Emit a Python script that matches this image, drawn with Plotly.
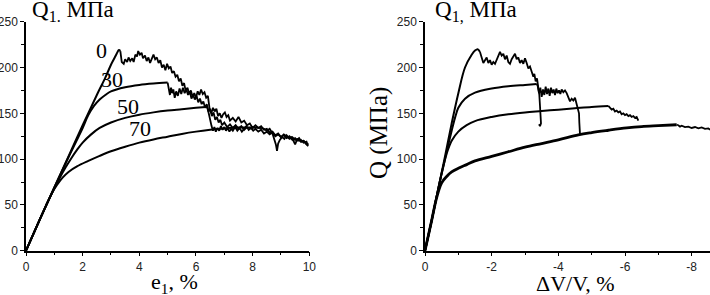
import plotly.graph_objects as go

W, H = 710, 295

# ---------------- data: left panel (e1, %) ----------------
L0_smooth_x = [0, 0.5, 1.0, 1.5, 2.0, 2.5, 2.8, 3.0, 3.1, 3.2, 3.28, 3.33]
L0_smooth_y = [0, 35, 69, 103, 137, 170, 189, 203, 209, 215, 219, 218]
L0_noisy_x = [3.33, 3.38, 3.45, 3.5, 3.57, 3.62, 3.68, 3.75, 3.8, 3.86, 3.92, 3.96, 4.02, 4.08, 4.13,
              4.2, 4.26, 4.32, 4.38, 4.44, 4.5, 4.56, 4.62, 4.68, 4.74, 4.8, 4.86, 4.92, 4.98, 5.04,
              5.1, 5.16, 5.22, 5.28, 5.34, 5.4, 5.46, 5.52, 5.58, 5.64, 5.7, 5.76, 5.82, 5.88, 5.94,
              6.0, 6.06, 6.12, 6.18, 6.24, 6.3, 6.36, 6.42, 6.48, 6.54, 6.6, 6.66, 6.72, 6.78, 6.84,
              6.9, 6.96, 7.02, 7.08, 7.14, 7.2, 7.3, 7.4, 7.5, 7.6, 7.7, 7.8, 7.9, 8.0, 8.1, 8.2, 8.3,
              8.4, 8.5, 8.6, 8.7, 8.8, 8.9, 9.0, 9.1, 9.2, 9.3, 9.4, 9.5, 9.6, 9.7, 9.8, 9.9, 9.97]
L0_noisy_y = [218, 206, 204, 209, 206, 211, 207, 210, 206, 214, 212, 218, 214, 216, 210,
              213, 207, 211, 205, 210, 214, 209, 211, 205, 208, 200, 203, 197, 204, 199,
              201, 194, 196, 190, 192, 185, 188, 180, 183, 174, 178, 171, 175, 168, 172,
              167, 174, 170, 176, 171, 173, 167, 169, 155, 150, 156, 152, 155, 147, 150,
              145, 149, 151, 146, 148, 142, 145, 141, 146, 140, 142, 137, 139, 134, 137, 134, 136,
              132, 133, 129, 130, 126, 128, 124, 127, 125, 122, 124, 121, 122, 119, 120, 116, 117]

L30_smooth_x = [0, 0.5, 1.0, 1.5, 1.8, 2.0, 2.2, 2.4, 2.6, 2.8, 3.0, 3.5, 4.0, 4.5, 5.0]
L30_smooth_y = [0, 35, 69, 102, 121, 134, 148, 158, 165, 170, 174, 178.5, 181, 182.5, 183.5]
L30_noisy_x = [5.0, 5.04, 5.08, 5.12, 5.16, 5.2, 5.25, 5.3, 5.36, 5.42, 5.48, 5.54, 5.6, 5.66, 5.72,
               5.78, 5.84, 5.9, 5.96, 6.02, 6.08, 6.14, 6.2, 6.26, 6.32, 6.38, 6.44, 6.5, 6.56, 6.62,
               6.68, 6.74, 6.8, 6.86, 6.92, 7.0, 7.1, 7.2, 7.3, 7.4, 7.5, 7.6, 7.7, 7.8]
L30_noisy_y = [183.5, 175, 170, 178, 172, 176, 167, 174, 169, 177, 171, 178, 172, 176, 170,
               174, 166, 170, 165, 169, 162, 166, 160, 163, 156, 160, 152, 155, 147, 151,
               143, 146, 140, 143, 137, 140, 135, 138, 134, 137, 133, 136, 132, 135]

L50_smooth_x = [0, 0.5, 1.0, 1.2, 1.4, 1.6, 1.8, 2.0, 2.3, 2.6, 3.0, 3.5, 4.0, 4.5, 5.0, 5.5, 6.0, 6.35]
L50_smooth_y = [0, 35, 68, 80, 91, 101, 110, 118, 127, 134, 140, 145, 148.5, 151, 153, 154.5, 156, 157]
L50_noisy_x = [6.35, 6.4, 6.45, 6.5, 6.55, 6.6, 6.65, 6.7, 6.76, 6.82, 6.88, 6.94, 7.0, 7.06, 7.12,
               7.18, 7.24, 7.3, 7.38, 7.46, 7.54, 7.62, 7.7, 7.78, 7.86, 7.94, 8.02, 8.1, 8.2, 8.3,
               8.4, 8.5, 8.6, 8.7, 8.8, 8.9, 9.0, 9.1, 9.2, 9.3, 9.4, 9.5, 9.6, 9.7, 9.8, 9.9, 9.95]
L50_noisy_y = [157, 156, 150, 142, 136, 131, 135, 130, 134, 131, 136, 132, 135, 131, 134,
               130, 133, 131, 135, 131, 134, 130, 133, 136, 132, 134, 131, 133, 130, 132,
               128, 130, 127, 129, 125, 127, 124, 126, 123, 125, 121, 123, 120, 121, 118, 119, 115]

L70_smooth_x = [0, 0.4, 0.7, 0.9, 1.1, 1.3, 1.5, 1.8, 2.2, 2.6, 3.0, 3.5, 4.0, 4.5, 5.0, 5.5, 6.0,
                6.5, 7.0, 7.5, 8.0, 8.3]
L70_smooth_y = [0, 28, 49, 62, 72, 80, 86, 92, 98, 103.5, 108.5, 113.5, 118, 121.5, 124.5, 127.5,
                130, 132, 133.5, 134.5, 134.5, 134]
L70_noisy_x = [8.3, 8.4, 8.5, 8.6, 8.7, 8.76, 8.82, 8.86, 8.9, 8.96, 9.04, 9.12, 9.2, 9.28, 9.36,
               9.44, 9.5, 9.56, 9.64, 9.72, 9.8, 9.88, 9.96]
L70_noisy_y = [134, 133, 131, 133, 128, 122, 116, 109, 117, 121, 124, 122, 126, 123, 124,
               120, 116, 121, 123, 119, 120, 117, 114]

# ---------------- data: right panel (dV/V, %) ----------------
R0_smooth_x = [0, -0.2, -0.4, -0.6, -0.8, -1.0, -1.2, -1.4, -1.5, -1.58, -1.65]
R0_smooth_y = [0, 33, 68, 103, 139, 172, 200, 214, 218.5, 220, 217]
R0_noisy_x = [-1.65, -1.7, -1.75, -1.8, -1.85, -1.9, -1.95, -2.0, -2.05, -2.1, -2.15, -2.2, -2.25,
              -2.3, -2.35, -2.4, -2.45, -2.5, -2.55, -2.6, -2.65, -2.7, -2.75, -2.8, -2.85, -2.9,
              -2.95, -3.0, -3.05, -3.1, -3.15, -3.2, -3.25, -3.28, -3.32, -3.36, -3.4, -3.43,
              -3.45, -3.47, -3.48, -3.45, -3.42]
R0_noisy_y = [217, 210, 205, 208, 211, 205, 208, 203, 206, 204, 209, 212, 217,
              213, 215, 209, 213, 206, 204, 209, 212, 215, 209, 211, 205, 208,
              204, 210, 205, 199, 201, 195, 190, 193, 185, 188, 180, 170,
              158, 147, 139, 136, 138]

R30_smooth_x = [0, -0.2, -0.4, -0.6, -0.7, -0.8, -0.9, -1.0, -1.2, -1.5, -2.0, -2.5, -3.0, -3.35]
R30_smooth_y = [0, 33, 68, 100, 116, 131, 145, 156, 166, 172.5, 177, 179.5, 181, 182]
R30_noisy_x = [-3.35, -3.38, -3.42, -3.46, -3.5, -3.54, -3.58, -3.62, -3.66, -3.7, -3.74, -3.78,
               -3.82, -3.86, -3.9, -3.94, -3.98, -4.02, -4.06, -4.1, -4.15, -4.2, -4.25, -4.3,
               -4.35, -4.4, -4.45, -4.5, -4.55, -4.6, -4.62, -4.63, -4.64, -4.65]
R30_noisy_y = [182, 180, 172, 178, 168, 176, 170, 179, 171, 177, 169, 178,
               172, 176, 170, 177, 172, 175, 171, 176, 173, 175, 172, 168,
               163, 166, 164, 167, 160, 156, 150, 140, 132, 127]

R50_smooth_x = [0, -0.2, -0.4, -0.55, -0.65, -0.8, -1.0, -1.25, -1.5, -2.0, -2.5, -3.0, -3.5,
                -4.0, -4.5, -5.0, -5.5]
R50_smooth_y = [0, 33, 68, 92, 106, 120, 130, 137, 141.5, 146, 149, 151, 152.5, 154, 155.5, 157, 158]
R50_noisy_x = [-5.5, -5.55, -5.6, -5.65, -5.7, -5.75, -5.8, -5.85, -5.9, -5.95, -6.0, -6.05, -6.1,
               -6.15, -6.2, -6.25, -6.3, -6.35, -6.4]
R50_noisy_y = [158, 156, 154, 155, 152, 153, 151, 152, 149, 150, 148, 149, 147,
               148, 146, 147, 145, 146, 142]

R70_smooth_x = [0, -0.2, -0.35, -0.5, -0.65, -0.8, -1.0, -1.25, -1.5, -2.0, -2.5, -3.0, -3.5,
                -4.0, -4.6, -5.0, -5.5, -6.05, -6.5, -7.0, -7.55]
R70_smooth_y = [0, 33, 58, 74, 81, 86, 90, 94, 98, 103, 108, 113, 117, 121, 126.5, 129, 131.5,
                134, 135.5, 136.5, 137.5]
R70_noisy_x = [-7.55, -7.6, -7.65, -7.7, -7.8, -7.9, -8.0, -8.1, -8.2, -8.3, -8.4, -8.5, -8.55]
R70_noisy_y = [137.5, 137, 135.5, 136.5, 135, 135.5, 134, 135, 133.5, 134.5, 133, 133.5, 132]

# ---------------- ticks / labels ----------------
left_xticks = [0, 2, 4, 6, 8, 10]
left_xticktext = ["0", "2", "4", "6", "8", "10"]
right_xticks = [0, -2, -4, -6, -8]
right_xticktext = ["0", "-2", "-4", "-6", "-8"]
yticks = [0, 50, 100, 150, 200, 250]
yticktext = ["0", "50", "100", "150", "200", "250"]
curve_labels = ["0", "30", "50", "70"]


def px(x):
    return x / W


def py(y):
    return 1 - y / H


fig = go.Figure()

left_sets = [
    (L0_smooth_x, L0_smooth_y, L0_noisy_x, L0_noisy_y, 2),
    (L30_smooth_x, L30_smooth_y, L30_noisy_x, L30_noisy_y, 2),
    (L50_smooth_x, L50_smooth_y, L50_noisy_x, L50_noisy_y, 2),
    (L70_smooth_x, L70_smooth_y, L70_noisy_x, L70_noisy_y, 2),
]
right_sets = [
    (R0_smooth_x, R0_smooth_y, R0_noisy_x, R0_noisy_y, 2),
    (R30_smooth_x, R30_smooth_y, R30_noisy_x, R30_noisy_y, 2),
    (R50_smooth_x, R50_smooth_y, R50_noisy_x, R50_noisy_y, 2),
    (R70_smooth_x, R70_smooth_y, R70_noisy_x, R70_noisy_y, 2.8),
]

for sets, xa, ya in [(left_sets, "x", "y"), (right_sets, "x2", "y2")]:
    for sx, sy, nx, ny, w in sets:
        fig.add_trace(go.Scatter(x=sx, y=sy, mode="lines", xaxis=xa, yaxis=ya,
                                 line=dict(color="black", width=w, shape="spline", smoothing=1.0),
                                 showlegend=False, hoverinfo="skip"))
        fig.add_trace(go.Scatter(x=nx, y=ny, mode="lines", xaxis=xa, yaxis=ya,
                                 line=dict(color="black", width=1.8),
                                 showlegend=False, hoverinfo="skip"))

tickfont = dict(family="Liberation Sans, Arial", size=12, color="#222")
common_axis = dict(showgrid=False, zeroline=False, showline=True, linecolor="black", linewidth=1.5,
                   ticks="outside", ticklen=4, tickwidth=1, tickcolor="black", tickfont=tickfont,
                   automargin=False)
ydomain = [(H - 250.7) / H, (H - 21.7) / H]

fig.update_layout(
    width=W, height=H, margin=dict(l=0, r=0, t=0, b=0, autoexpand=False),
    paper_bgcolor="white", plot_bgcolor="white", showlegend=False,
    xaxis=dict(domain=[px(26), px(309.3)], range=[0, 10], tickmode="array",
               tickvals=left_xticks, ticktext=left_xticktext,
               minor=dict(dtick=1, tick0=0, ticklen=3, ticks="outside", tickcolor="black"),
               anchor="y", **common_axis),
    yaxis=dict(domain=ydomain, range=[0, 250], tickmode="array", tickvals=yticks, ticktext=yticktext,
               minor=dict(dtick=25, tick0=0, ticklen=3, ticks="outside", tickcolor="black"),
               anchor="x", **common_axis),
    xaxis2=dict(domain=[px(425), 1.0], range=[0, -8.55], tickmode="array",
                tickvals=right_xticks, ticktext=right_xticktext,
                minor=dict(dtick=1, tick0=0, ticklen=3, ticks="outside", tickcolor="black"),
                anchor="y2", **common_axis),
    yaxis2=dict(domain=ydomain, range=[0, 250], tickmode="array", tickvals=yticks, ticktext=yticktext,
                minor=dict(dtick=25, tick0=0, ticklen=3, ticks="outside", tickcolor="black"),
                anchor="x2", **common_axis),
)

serif = "Liberation Serif, Times New Roman, serif"
annots = [
    dict(text="Q<sub>1.</sub> МПа", x=px(30), y=py(11), xanchor="left", yanchor="middle", size=23),
    dict(text="Q<sub>1,</sub> МПа", x=px(433), y=py(11), xanchor="left", yanchor="middle", size=23),
    dict(text="e<sub>1</sub>, %", x=px(174.5), y=py(283), xanchor="center", yanchor="middle", size=22),
    dict(text="ΔV/V, %", x=px(575), y=py(283), xanchor="center", yanchor="middle", size=22),
    dict(text="Q (МПа)", x=px(379), y=py(133), xanchor="center", yanchor="middle", size=25, angle=-90),
    dict(text=curve_labels[0], x=px(101.5), y=py(50), xanchor="center", yanchor="middle", size=22),
    dict(text=curve_labels[1], x=px(111.5), y=py(80), xanchor="center", yanchor="middle", size=22),
    dict(text=curve_labels[2], x=px(127.5), y=py(106.5), xanchor="center", yanchor="middle", size=22),
    dict(text=curve_labels[3], x=px(140), y=py(128.5), xanchor="center", yanchor="middle", size=22),
]
for a in annots:
    fig.add_annotation(text=a["text"], x=a["x"], y=a["y"], xref="paper", yref="paper",
                       xanchor=a["xanchor"], yanchor=a["yanchor"], showarrow=False,
                       textangle=a.get("angle", 0),
                       font=dict(family=serif, size=a["size"], color="black"))

fig.write_html("out.html", config={"displayModeBar": False},
               post_script="document.body.style.margin='0';document.body.style.overflow='hidden';")
